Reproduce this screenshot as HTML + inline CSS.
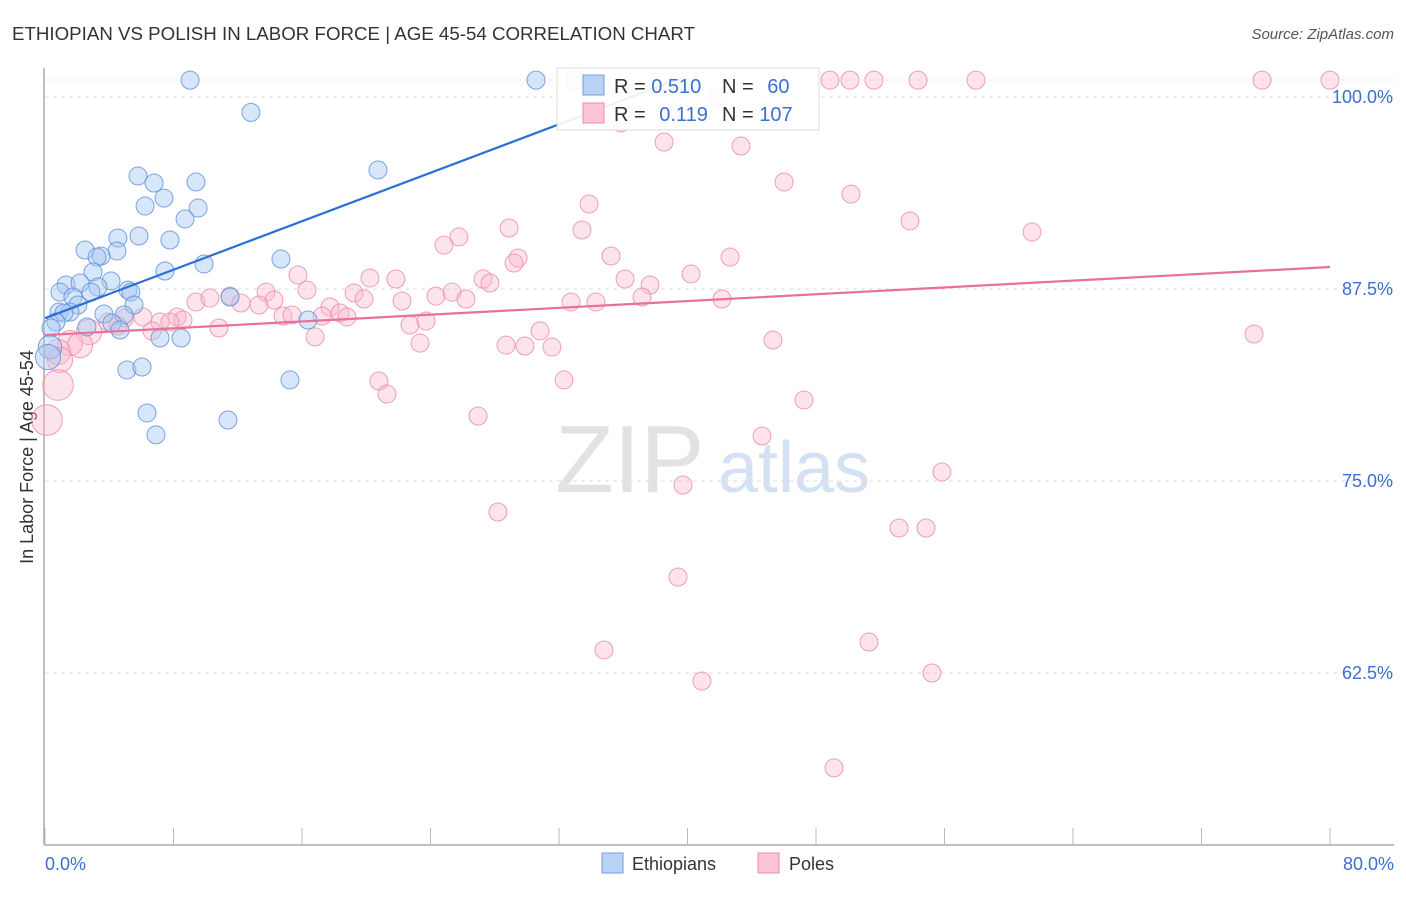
<!DOCTYPE html>
<html><head><meta charset="utf-8"><style>
body{margin:0;background:#fff;font-family:"Liberation Sans",sans-serif}
svg text{font-family:"Liberation Sans",sans-serif}
</style></head><body>
<svg id="chart" width="1406" height="892" xmlns="http://www.w3.org/2000/svg">
<text x="12" y="40" font-size="18" fill="#333" textLength="683" lengthAdjust="spacingAndGlyphs">ETHIOPIAN VS POLISH IN LABOR FORCE | AGE 45-54 CORRELATION CHART</text>
<text x="1394" y="39" font-size="15" fill="#555" font-style="italic" text-anchor="end">Source: ZipAtlas.com</text>
<text x="33" y="457" font-size="18" fill="#333" text-anchor="middle" transform="rotate(-90 33 457)">In Labor Force | Age 45-54</text>
<g><text x="555" y="492" font-size="96" fill="#e2e2e2" font-family="Liberation Serif">ZIP</text><text x="718" y="492" font-size="72" fill="#d3e1f3">atlas</text></g>
<g id="grid"></g><g id="axes"></g><g id="pts"></g><g id="lines"></g>
<g>
<rect x="557" y="68" width="262" height="62" fill="#fff" fill-opacity="0.9" stroke="#ddd"/>
<rect x="583" y="75" width="21" height="20" fill="#b9d3f5" stroke="#6f9fe0"/>
<rect x="583" y="103" width="21" height="20" fill="#fbc5d5" stroke="#ec8aa8"/>
<text x="614" y="93" font-size="20" fill="#333">R = <tspan fill="#3b6fd1">0.510</tspan></text>
<text x="722" y="93" font-size="20" fill="#333">N = <tspan fill="#3b6fd1" dx="8">60</tspan></text>
<text x="614" y="121" font-size="20" fill="#333">R = <tspan fill="#3b6fd1" dx="8">0.119</tspan></text>
<text x="722" y="121" font-size="20" fill="#333">N = <tspan fill="#3b6fd1">107</tspan></text>
</g>
<g>
<rect x="602" y="853" width="21" height="20" fill="#b9d3f5" stroke="#6f9fe0"/>
<text x="632" y="870" font-size="18" fill="#333">Ethiopians</text>
<rect x="758" y="853" width="21" height="20" fill="#fbc5d5" stroke="#ec8aa8"/>
<text x="789" y="870" font-size="18" fill="#333">Poles</text>
</g>
</svg>
<script>
const yTicks=[100,87.5,75,62.5];
const yTickLabels=["100.0%","87.5%","75.0%","62.5%"];
const xTickLabels=["0.0%","80.0%"];
const blueTrend=[[0,85.6],[39.8,101.3]];
const pinkTrend=[[0,84.5],[80,88.93]];
const ethiopiansX=[9.03,12.82,30.57,33.06,5.79,6.79,7.41,9.40,6.23,9.53,8.72,20.73,2.49,4.54,5.85,7.78,4.48,3.49,3.24,9.90,14.69,2.99,7.47,4.11,1.31,2.18,3.30,0.93,1.74,2.86,5.17,5.35,5.54,11.52,2.05,0.87,1.56,1.18,3.67,4.92,0.68,0.37,2.61,4.17,4.67,7.16,8.47,16.37,0.31,0.19,5.10,6.04,15.25,6.35,6.91,11.39];
const ethiopiansY=[101.1,99.0,101.1,101.1,94.86,94.40,93.42,94.47,92.90,92.77,92.06,95.25,90.04,90.82,90.95,90.69,89.97,89.65,89.58,89.13,89.45,88.61,88.67,88.02,87.76,87.89,87.63,87.30,86.98,87.30,87.43,87.30,86.46,86.98,86.46,86.00,86.00,85.94,85.87,85.81,85.35,84.96,85.03,85.29,84.83,84.31,84.31,85.48,83.72,83.07,82.23,82.42,81.58,79.43,78.00,78.97];
const ethiopiansSize=[1,1,1,1,1,1,1,1,1,1,1,1,1,1,1,1,1,1,1,1,1,1,1,1,1,1,1,1,1,1,1,1,1,1,1,1,1,1,1,1,1,1,1,1,1,1,1,1,1.3,1.4,1,1,1,1,1,1];
const polesX=[80.0,75.77,57.96,54.35,51.61,50.12,48.87,41.84,35.86,38.54,43.33,46.01,50.18,33.87,53.85,61.45,33.43,28.89,25.77,24.84,35.24,42.65,29.45,29.20,15.75,20.23,21.85,27.27,27.70,36.11,40.22,37.67,16.31,19.24,24.34,25.34,26.21,32.75,34.30,37.17,42.15,13.76,14.26,9.40,10.27,11.52,12.20,13.32,19.86,22.23,17.74,18.37,18.80,17.25,14.82,15.38,8.22,7.16,8.59,7.78,6.10,4.98,3.92,4.54,6.66,10.83,22.72,23.72,16.81,2.74,1.56,2.18,0.81,0.93,23.35,28.70,29.88,31.56,30.82,45.32,75.27,20.79,32.31,21.29,47.25,26.96,44.64,55.84,39.72,28.20,53.17,54.85,39.41,51.30,34.80,40.90,55.22,49.12,0.81,0.12];
const polesY=[101.1,101.1,101.1,101.1,101.1,101.1,101.1,100.0,98.31,97.07,96.81,94.47,93.68,93.03,91.93,91.21,91.34,91.47,90.89,90.36,89.65,89.58,89.52,89.19,88.41,88.22,88.15,88.15,87.89,88.15,88.48,87.76,87.43,87.24,87.04,87.30,86.85,86.65,86.65,86.98,86.85,87.30,86.78,86.65,86.91,87.04,86.59,86.46,86.85,86.72,86.33,85.94,85.68,85.74,85.74,85.81,85.68,85.35,85.48,85.35,85.68,85.61,85.35,85.09,84.77,84.96,85.16,85.42,84.38,84.70,83.98,83.85,83.40,82.88,83.98,83.85,83.79,83.72,84.77,84.18,84.57,81.51,81.58,80.66,80.27,79.23,77.93,75.59,74.74,72.98,71.94,71.94,68.75,64.52,64.00,61.98,62.50,56.32,81.25,78.97];
const polesSize=polesX.map((x,i)=>i>=69&&i<=73?1.4:(i>=98?1.7:1));

const NS="http://www.w3.org/2000/svg";
const X0=45,X1=1330,Y100=97,PXPER=15.36;
function sx(v){return X0+(v/80)*(X1-X0);}
function sy(v){return Y100+(100-v)*PXPER;}
function mk(tag,attrs,parent){const e=document.createElementNS(NS,tag);for(const k in attrs)e.setAttribute(k,attrs[k]);parent.appendChild(e);return e;}
const grid=document.getElementById('grid'),axes=document.getElementById('axes'),pts=document.getElementById('pts'),lines=document.getElementById('lines');
yTicks.forEach((t,i)=>{
 const l=mk('line',{x1:45,x2:1394,y1:sy(t),y2:sy(t),stroke:'#ddd','stroke-dasharray':'4,4'},grid);
 
 
 const tx=mk('text',{x:1393,y:sy(t)+6,'font-size':18,fill:'#3b6fd1','text-anchor':'end'},axes);
 tx.textContent=yTickLabels[i];
 
 
});
const topg=mk('line',{x1:45,x2:1394,y1:80,y2:80,stroke:'#e6e6e6','stroke-dasharray':'4,4'},grid);


const ya=mk('line',{x1:44,x2:44,y1:68,y2:845,stroke:'#aaa','stroke-width':1.5},axes);


const xa=mk('line',{x1:44,x2:1394,y1:845,y2:845,stroke:'#aaa','stroke-width':1.5},axes);


for(let i=0;i<=10;i++){
 const t=mk('line',{x1:sx(i*8),x2:sx(i*8),y1:828,y2:845,stroke:'#bbb'},axes);
 
 
}
[[0,'start',45],[80,'end',1394]].forEach((d,i)=>{
 const t=mk('text',{x:d[2],y:870,'font-size':18,fill:'#3b6fd1','text-anchor':d[1]},axes);
 t.textContent=xTickLabels[i];
 
 
});
polesX.forEach((x,i)=>{
 const c=mk('circle',{cx:sx(x),cy:sy(polesY[i]),r:9*polesSize[i],fill:'#f9b8cc','fill-opacity':0.4,stroke:'#ec8aa8','stroke-opacity':0.8},pts);
 
 
});
ethiopiansX.forEach((x,i)=>{
 const c=mk('circle',{cx:sx(x),cy:sy(ethiopiansY[i]),r:9*ethiopiansSize[i],fill:'#a9c8f2','fill-opacity':0.45,stroke:'#5a8fdc','stroke-opacity':0.8},pts);
 
 
});
const bl=mk('line',{x1:sx(blueTrend[0][0]),y1:sy(blueTrend[0][1]),x2:sx(blueTrend[1][0]),y2:sy(blueTrend[1][1]),stroke:'#2a6fd6','stroke-width':2.2},lines);


const pl=mk('line',{x1:sx(pinkTrend[0][0]),y1:sy(pinkTrend[0][1]),x2:sx(pinkTrend[1][0]),y2:sy(pinkTrend[1][1]),stroke:'#e8709a','stroke-width':2.2},lines);


</script>
</body></html>
